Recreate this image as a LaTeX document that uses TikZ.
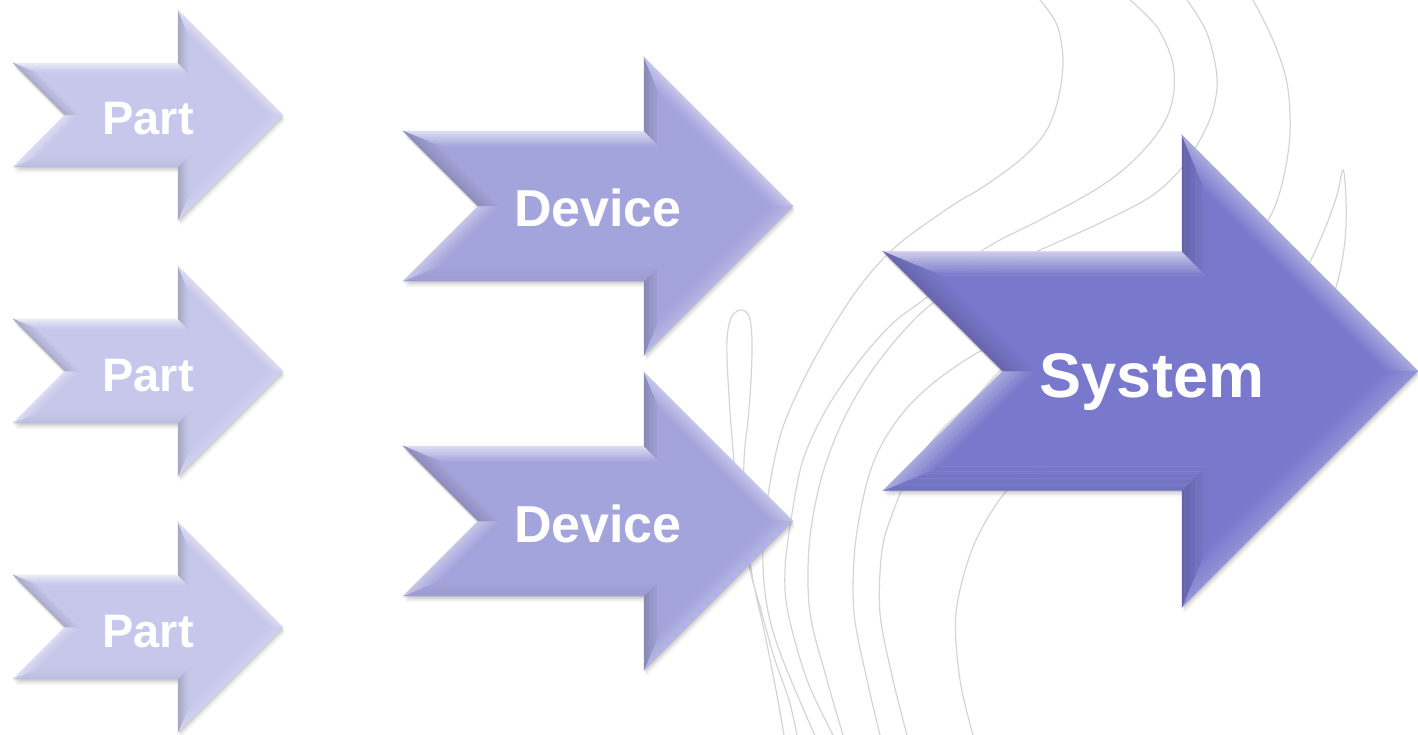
\documentclass[tikz,border=0pt]{standalone}
\usepackage{fontspec}
\setmainfont{Liberation Sans}

\definecolor{partblue}{RGB}{199,199,236}
\definecolor{deviceblue}{RGB}{164,164,221}
\definecolor{systemblue}{RGB}{120,120,204}
\definecolor{swirlgray}{RGB}{212,212,212}

% Corner points of a chevron arrow inset by #1 (y axis points down).
% A tail top, B shaft top right, C head top, D tip, E head bottom,
% F shaft bottom right, G tail bottom, N notch.
\newcommand\arwPA[1]{({\arwx+(#1)*2.41421},{\arwy-\arwh+(#1)})}
\newcommand\arwPB[1]{({\arwxb+(#1)},{\arwy-\arwh+(#1)})}
\newcommand\arwPC[1]{({\arwxb+(#1)},{\arwy-\arwH+(#1)*2.41421})}
\newcommand\arwPD[1]{({\arwxt-(#1)*1.41421},{\arwy})}
\newcommand\arwPE[1]{({\arwxb+(#1)},{\arwy+\arwH-(#1)*2.41421})}
\newcommand\arwPF[1]{({\arwxb+(#1)},{\arwy+\arwh-(#1)})}
\newcommand\arwPG[1]{({\arwx+(#1)*2.41421},{\arwy+\arwh-(#1)})}
\newcommand\arwPN[1]{({\arwx+\arwh+(#1)*1.41421},{\arwy})}

% One bevel facet, blended in ten bands from the edge colour #1
% at the rim to the body colour inside.
\newcommand\arwfacet[3]{%
  \foreach \k in {0,...,9}{%
    \pgfmathsetmacro\ta{\arwb*\k/10}%
    \pgfmathsetmacro\tb{\arwb*(\k+1)/10}%
    \pgfmathtruncatemacro\pc{95-10*\k}%
    \fill[#1!\pc!arwbase, draw=#1!\pc!arwbase, line width=0.3pt]
      #2{\ta} -- #3{\ta} -- #3{\tb} -- #2{\tb} -- cycle;
  }%
}

% Bevelled chevron arrow:
% #1 tail x, #2 centre y, #3 shaft half height, #4 head base x,
% #5 head half height, #6 body colour, #7 bevel width
\newcommand\bevelarrow[7]{%
  \def\arwx{#1}\def\arwy{#2}\def\arwh{#3}\def\arwxb{#4}\def\arwH{#5}\def\arwb{#7}%
  \pgfmathsetmacro\arwxt{#4+#5}%
  \colorlet{arwbase}{#6}%
  \colorlet{arwtop}{arwbase!35!white}%
  \colorlet{arwhi}{arwbase!62!white}%
  \colorlet{arwlo}{arwbase!80!white}%
  \colorlet{arwdk}{arwbase!82!black}%
  \colorlet{arwdd}{arwbase!85!black}%
  \colorlet{arwbt}{arwbase!95!black}%
  % soft drop shadow
  \foreach \s/\o in {6/0.035,4.5/0.045,3/0.06,1.5/0.08}{%
    \fill[black, opacity=\o, shift={(0.4*\s,\s)}]
      \arwPA{0} -- \arwPB{0} -- \arwPC{0} -- \arwPD{0} -- \arwPE{0}
      -- \arwPF{0} -- \arwPG{0} -- \arwPN{0} -- cycle;
  }%
  \arwfacet{arwtop}{\arwPA}{\arwPB}%
  \arwfacet{arwdk}{\arwPB}{\arwPC}%
  \arwfacet{arwhi}{\arwPC}{\arwPD}%
  \arwfacet{arwlo}{\arwPD}{\arwPE}%
  \arwfacet{arwdk}{\arwPE}{\arwPF}%
  \arwfacet{arwbt}{\arwPF}{\arwPG}%
  \arwfacet{arwhi}{\arwPG}{\arwPN}%
  \arwfacet{arwdd}{\arwPN}{\arwPA}%
  \fill[arwbase]
    \arwPA{\arwb} -- \arwPB{\arwb} -- \arwPC{\arwb} -- \arwPD{\arwb} -- \arwPE{\arwb}
    -- \arwPF{\arwb} -- \arwPG{\arwb} -- \arwPN{\arwb} -- cycle;
}

\begin{document}
\begin{tikzpicture}[x=1pt, y=-1pt,
  swirl/.style={draw=swirlgray, line width=1.2pt, line cap=round},
  lbl/.style={text=white, inner sep=0pt, anchor=base}]
\useasboundingbox (0,0) rectangle (1418,735);

% background swirls
\begin{scope}[every path/.style={swirl}]
\draw plot[smooth, tension=0.55] coordinates {(1040,0) (1057,25) (1063,60) (1058,100) (1045,133) (1020,160) (983,187) (953,205) (900,243) (867,277) (837,320) (807,373) (783,427) (770,483) (763,547) (766,600) (778,647) (805,713) (815,735)};
\draw plot[smooth, tension=0.55] coordinates {(1130,0) (1157,27) (1172,60) (1174,90) (1167,117) (1150,143) (1123,170) (1090,193) (1040,220) (983,250) (927,297) (893,323) (860,360) (827,408) (803,460) (791,520) (785,570) (788,613) (807,680) (833,735)};
\draw plot[smooth, tension=0.55] coordinates {(1187,0) (1207,33) (1217,77) (1213,110) (1200,140) (1180,170) (1150,197) (1100,223) (1040,250) (980,275) (933,303) (900,335) (867,378) (840,427) (820,483) (809,547) (810,613) (827,680) (843,735)};
\draw plot[smooth, tension=0.55] coordinates {(1253,0) (1273,40) (1287,83) (1290,133) (1283,180) (1270,217) (1245,250) (1200,285) (1140,310) (1060,330) (1010,340) (977,353) (937,380) (907,408) (883,442) (867,482) (855,547) (854,613) (867,680) (880,735)};
\draw plot[smooth, tension=0.55] coordinates {(1060,330) (1010,362) (973,400) (937,435) (910,473) (893,512) (882,550) (880,613) (893,680) (907,735)};
\draw plot[smooth, tension=0.55] coordinates {(1070,455) (1030,475) (1003,495) (973,547) (956,613) (960,680) (973,735)};
\draw plot[smooth, tension=0.6] coordinates {(1290,300) (1310,262) (1326,226) (1337,195) (1343,170) (1346,200) (1345,240) (1338,280) (1325,320)};
\draw plot[smooth, tension=0.55] coordinates {(797,735) (789,700) (774,657) (761,610) (750,570) (740,515) (733,450) (728,380) (727,340) (731,318) (740,310) (749,316) (752,340) (751,380) (748,420) (744,460) (745,520) (753,580) (764,630) (776,690) (784,735)};
\end{scope}

% parts
\bevelarrow{13}{115}{52}{178}{105}{partblue}{11}
\bevelarrow{13}{371}{52}{178}{105}{partblue}{11}
\bevelarrow{13}{627}{52}{178}{105}{partblue}{11}
% devices
\bevelarrow{403}{206}{75}{644}{149}{deviceblue}{16}
\bevelarrow{403}{521}{75}{644}{149}{deviceblue}{16}
% system
\bevelarrow{883}{371}{119.5}{1182}{236}{systemblue}{24}

\node[lbl, font=\bfseries\fontsize{47}{50}\selectfont] (part1) at (148,135) {Part};
\node[lbl, font=\bfseries\fontsize{47}{50}\selectfont] (part2) at (148,391) {Part};
\node[lbl, font=\bfseries\fontsize{47}{50}\selectfont] (part3) at (148,647) {Part};
\node[lbl, font=\bfseries\fontsize{52}{56}\selectfont] (device1) at (598,227) {Device};
\node[lbl, font=\bfseries\fontsize{52}{56}\selectfont] (device2) at (598,542) {Device};
\node[lbl, font=\bfseries\fontsize{63}{68}\selectfont] (system) at (1152,397) {System};
\end{tikzpicture}
\end{document}
